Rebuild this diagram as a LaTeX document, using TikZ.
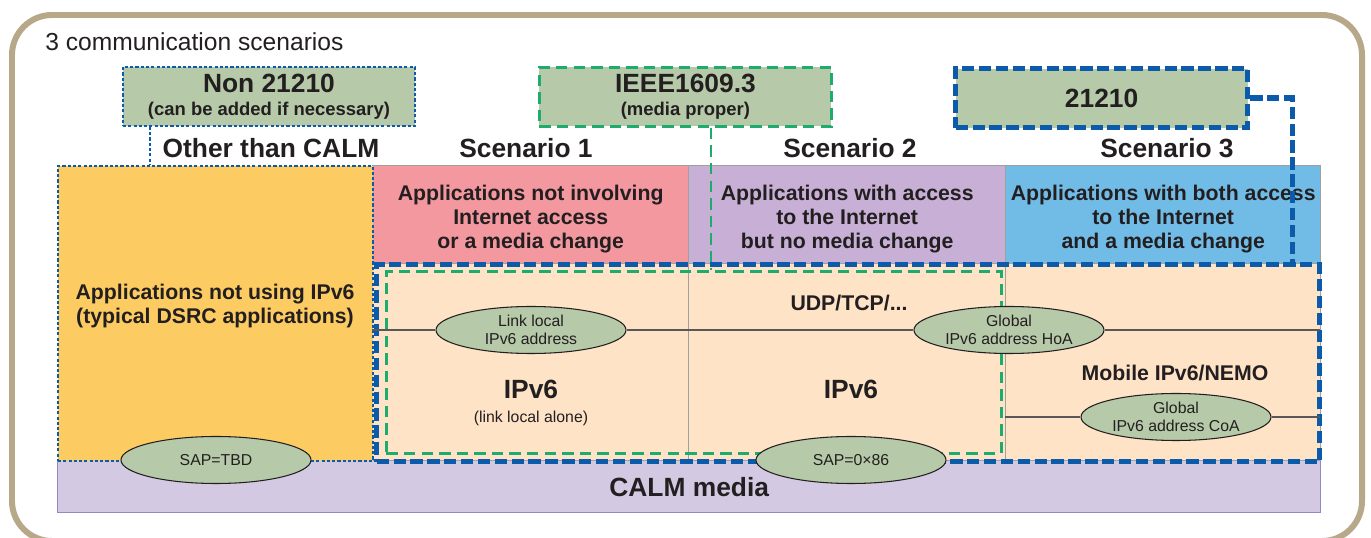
\documentclass[tikz,border=0pt]{standalone}
\usepackage{fontspec}
\setmainfont{Liberation Sans}
\usepackage{xcolor}
\usepackage{tikz}
\usetikzlibrary{positioning, shapes.geometric}

\definecolor{frametan}{RGB}{183,168,138}
\definecolor{sage}{RGB}{182,201,168}
\definecolor{appyellow}{RGB}{252,203,98}
\definecolor{apppink}{RGB}{244,152,160}
\definecolor{applilac}{RGB}{199,175,213}
\definecolor{appblue}{RGB}{113,188,231}
\definecolor{peach}{RGB}{254,227,199}
\definecolor{calmlilac}{RGB}{212,201,227}
\definecolor{calmedge}{RGB}{150,135,195}
\definecolor{calmblue}{RGB}{12,90,170}
\definecolor{ieeegreen}{RGB}{30,172,110}
\definecolor{gridgrey}{RGB}{160,160,160}
\definecolor{inkdark}{RGB}{35,31,32}

\begin{document}
\begin{tikzpicture}[x=0.2mm, y=-0.2mm,
  every node/.style={text=inkdark, inner sep=0pt},
  bigbold/.style={font=\fontsize{15}{17}\selectfont\bfseries},
  midbold/.style={font=\fontsize{12.1}{13.6}\selectfont\bfseries, align=center},
  smalltxt/.style={font=\fontsize{9}{10}\selectfont, align=center},
  stdbox/.style={fill=sage, minimum width=58.4mm, minimum height=11.8mm, align=center},
  cell/.style={draw=gridgrey, line width=0.8pt, anchor=north west, minimum height=19.6mm},
  lowcell/.style={draw=gridgrey, line width=0.8pt, fill=peach, anchor=north west, minimum height=39.4mm},
  addr/.style={ellipse, draw=inkdark, line width=0.6pt, fill=sage, minimum width=38mm, minimum height=9.4mm},
  rowline/.style={draw=inkdark!75, line width=0.6pt},
  dotblue/.style={draw=calmblue, line width=1.1pt, dash pattern=on 1.8pt off 1.2pt},
  dashgreen/.style={draw=ieeegreen, line width=1.6pt, dash pattern=on 6.5pt off 3.5pt},
  dashblue/.style={draw=calmblue, line width=3pt, dash pattern=on 7pt off 2.6pt}]

  \useasboundingbox (0,0) rectangle (1371,538);
  \draw[frametan, line width=3.4pt, rounded corners=8mm] (12,15) rectangle (1362,541);
  \node[font=\fontsize{14}{16}\selectfont, anchor=west] (title) at (45,42) {3 communication scenarios};

  % media band and the three scenario columns
  \node[draw=calmedge, fill=calmlilac, line width=0.8pt, anchor=north west, minimum width=252.6mm, minimum height=10.4mm,
        font=\fontsize{15}{17}\selectfont\bfseries] (media) at (57,460) {CALM media};
  \node[cell, fill=apppink, minimum width=63.2mm] (s1head) at (372,165) {};
  \node[cell, fill=applilac, minimum width=63.4mm] (s2head) at (688,165) {};
  \node[cell, fill=appblue, minimum width=63mm] (s3head) at (1005,165) {};
  \node[midbold] (s1txt) at ([yshift=-0.8mm]s1head.center) {Applications not involving\\Internet access\\or a media change};
  \node[midbold] (s2txt) at ([yshift=-0.8mm]s2head.center) {Applications with access\\to the Internet\\but no media change};
  \node[midbold] (s3txt) at ([yshift=-0.8mm]s3head.center) {Applications with both access\\to the Internet\\and a media change};
  \node[lowcell, minimum width=63.2mm] (s1low) at (372,263) {};
  \node[lowcell, minimum width=63.4mm] (s2low) at (688,263) {};
  \node[lowcell, minimum width=63mm] (s3low) at (1005,263) {};
  \node[dotblue, fill=appyellow, anchor=north west, minimum width=63mm, minimum height=59mm] (nonip) at (57,165) {};
  \node[midbold] (nonipTxt) at (215,306) {Applications not using IPv6\\(typical DSRC applications)};

  % scopes of the standards
  \node[dashgreen, anchor=north west, minimum width=123mm, minimum height=36.4mm] (ieeescope) at (385,270) {};
  \node[dashblue, anchor=north west, minimum width=188.6mm, minimum height=39.4mm] (calmscope) at (374,262) {};

  % addresses and access points
  \node[addr, label={[smalltxt]center:{Link local\\IPv6 address}}] (linkll) at (531,330) {};
  \node[addr, label={[smalltxt]center:{Global\\IPv6 address HoA}}] (hoa) at (1009,330) {};
  \node[addr, label={[smalltxt]center:{Global\\IPv6 address CoA}}] (coa) at (1176,417) {};
  \node[addr, label={[smalltxt]center:{SAP=TBD}}] (saptbd) at (216,460) {};
  \node[addr, label={[smalltxt]center:{SAP=0×86}}] (sapip) at (851,460) {};
  \coordinate (rowL) at (372,330);
  \coordinate (rowR) at (1320,330);
  \coordinate (coaL) at (1005,417);
  \coordinate (coaR) at (1320,417);
  \draw[rowline] (rowL) -- (linkll) -- (hoa) -- (rowR);
  \draw[rowline] (coaL) -- (coa) -- (coaR);

  \node[midbold] (udp) at (849,303) {UDP/TCP/...};
  \node[bigbold] (ipv6a) at (531,389) {IPv6};
  \node[smalltxt] (llalone) at (531,418) {(link local alone)};
  \node[bigbold] (ipv6b) at (851,389) {IPv6};
  \node[midbold] (mobile) at (1175,373) {Mobile IPv6/NEMO};

  % standards on top
  \node[stdbox, dotblue, anchor=north west] (nonbox) at (122,66)
    {{\fontsize{15}{17}\selectfont\bfseries Non 21210}\\[1pt]{\fontsize{10.5}{12}\selectfont\bfseries (can be added if necessary)}};
  \node[stdbox, dashgreen, anchor=north west] (ieeebox) at (538,66)
    {{\fontsize{15}{17}\selectfont\bfseries IEEE1609.3}\\[1pt]{\fontsize{10.5}{12}\selectfont\bfseries (media proper)}};
  \node[stdbox, dashblue, anchor=north west, bigbold] (calmbox) at (953,66) {21210};
  \draw[dotblue] ([xshift=5.6mm]nonbox.south west) -- ([xshift=5.6mm]nonbox.south west |- nonip.north);
  \draw[dashgreen] ([xshift=5.1mm]ieeebox.south) -- ([xshift=5.1mm]ieeebox.south |- ieeescope.north);
  \draw[dashblue] (calmbox.east) -| ([xshift=-6mm]calmscope.north east);

  \node[bigbold] (other) at (271,148) {Other than CALM};
  \node[bigbold] (sc1) at (526,148) {Scenario 1};
  \node[bigbold] (sc2) at (850,148) {Scenario 2};
  \node[bigbold] (sc3) at (1167,148) {Scenario 3};
\end{tikzpicture}
\end{document}
